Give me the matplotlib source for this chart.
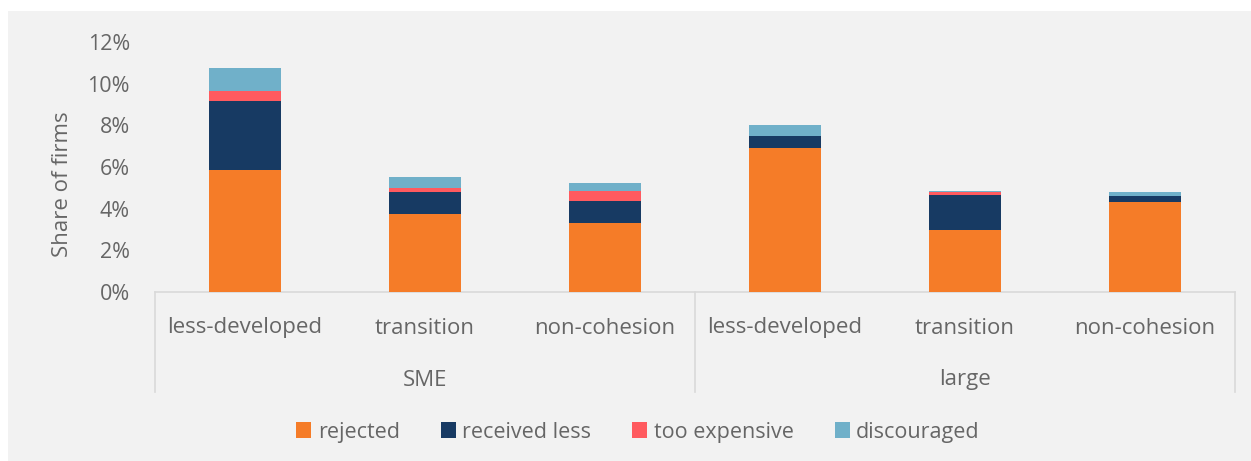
import matplotlib
matplotlib.use("Agg")
import matplotlib.pyplot as plt
from matplotlib.patches import Rectangle
import numpy as np

plt.rcParams["font.family"] = ["Open Sans", "DejaVu Sans"]

groups = ["SME", "large"]
regions = ["less-developed", "transition", "non-cohesion"]
series = ["rejected", "received less", "too expensive", "discouraged"]
colors = ["#f57c28", "#173a63", "#ff5a5f", "#70b0c9"]

rejected = [5.85, 3.76, 3.30, 6.92, 2.97, 4.32]
received_less = [3.30, 1.04, 1.07, 0.56, 1.70, 0.29]
too_expensive = [0.52, 0.21, 0.46, 0.00, 0.14, 0.00]
discouraged = [1.06, 0.51, 0.40, 0.54, 0.02, 0.17]

W, H = 1251, 461
fig = plt.figure(figsize=(W / 100, H / 100), dpi=100, facecolor="white")
bg = Rectangle((8 / W, 0), 1 - 8 / W, 1 - 11 / H, transform=fig.transFigure,
               facecolor="#f2f2f2", edgecolor="none", zorder=-10)
fig.add_artist(bg)

left, right, bottom, top = 155 / W, 1235 / W, 1 - 292 / H, 1 - 42 / H
ax = fig.add_axes([left, bottom, right - left, top - bottom])
ax.set_facecolor("none")

x = np.arange(6)
base = np.zeros(6)
for vals, name, c in zip([rejected, received_less, too_expensive, discouraged], series, colors):
    ax.bar(x, vals, bottom=base, width=0.4, color=c, label=name, zorder=3)
    base += np.array(vals)

ax.set_xlim(-0.5, 5.5)
ax.set_ylim(0, 12)
ax.set_yticks(np.arange(0, 13, 2))
ax.set_yticklabels([f"{v}%" for v in range(0, 13, 2)])
ax.tick_params(axis="y", length=0, pad=18, labelsize=15.5, labelcolor="#666666")
ax.set_xticks([])
for s in ["top", "right", "left"]:
    ax.spines[s].set_visible(False)
ax.spines["bottom"].set_color("#d9d9d9")
ax.spines["bottom"].set_linewidth(1.2)
ax.set_ylabel("Share of firms", fontsize=16, color="#666666")
ax.yaxis.set_label_coords(-(155 - 73) / 1080, (292 - 184) / 250)

# multi-level category axis
trans = ax.get_xaxis_transform()
box_bottom = -(392 - 292) / (292 - 42)
for xv in [-0.5, 2.5, 5.5]:
    ax.plot([xv, xv], [0, box_bottom], transform=trans, color="#d9d9d9", lw=1.2, clip_on=False)
for i, xv in enumerate(x):
    ax.text(xv, -(328 - 292) / 250, regions[i % 3], transform=trans, ha="center", va="center",
            fontsize=16, color="#666666")
for j, g in enumerate(groups):
    ax.text(1 + 3 * j, -(380 - 292) / 250, g, transform=trans, ha="center", va="center",
            fontsize=16, color="#666666")

fig.legend(loc="center", bbox_to_anchor=(638 / W, 1 - 432 / H), ncol=4, frameon=False,
           fontsize=15.5, labelcolor="#666666", handlelength=0.7, handleheight=0.7,
           handletextpad=0.3, columnspacing=1.9)

fig.savefig("out.png", dpi=100, facecolor="white")
